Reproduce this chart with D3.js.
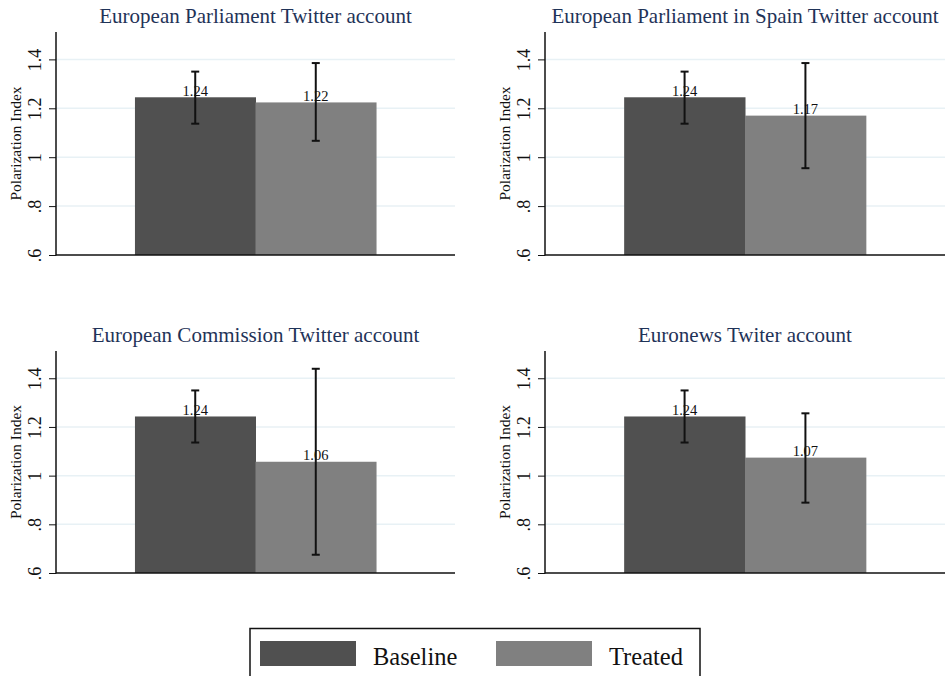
<!DOCTYPE html>
<html><head><meta charset="utf-8">
<script src="https://cdn.jsdelivr.net/npm/d3@7"></script>
<style>body{margin:0;background:#fff}svg{display:block}</style>
</head><body>
<svg id="chart" width="946" height="676"></svg>
<script>
const panelTitles = ["European Parliament Twitter account","European Parliament in Spain Twitter account","European Commission Twitter account","Euronews Twiter account"];
const groups = ["Baseline","Treated"];
const baselineMean = [1.245,1.245,1.243,1.243];
const baselineLo = [1.137,1.137,1.136,1.136];
const baselineHi = [1.350,1.350,1.350,1.350];
const treatedMean = [1.224,1.170,1.057,1.074];
const treatedLo = [1.067,0.955,0.675,0.889];
const treatedHi = [1.385,1.385,1.439,1.256];
const valueLabels = [["1.24","1.22"],["1.24","1.17"],["1.24","1.06"],["1.24","1.07"]];
const yTicks = [0.6,0.8,1,1.2,1.4];
const tickLabels = [".6",".8","1","1.2","1.4"];
const yDomain = [0.6,1.512];
const colors = {Baseline:"#505050", Treated:"#808080"};

const svg = d3.select("#chart");
const serif = "'Liberation Serif','Times New Roman',serif";
const panels = [
  {x0:56,x1:455,y0:32,y1:255},
  {x0:545,x1:945,y0:32,y1:255},
  {x0:56,x1:455,y0:351,y1:573},
  {x0:545,x1:945,y0:351,y1:573}
];

panels.forEach((p,i)=>{
  const g = svg.append("g");
  const y = d3.scaleLinear().domain(yDomain).range([p.y1,p.y0]);
  const x = d3.scaleBand().domain(groups).range([p.x0,p.x1]).paddingInner(0).paddingOuter(0.655);
  g.selectAll("line.grid").data(yTicks.slice(1)).join("line")
    .attr("x1",p.x0).attr("x2",p.x1).attr("y1",d=>y(d)).attr("y2",d=>y(d))
    .attr("stroke","#e8f1f5").attr("stroke-width",1.5);
  g.append("text").attr("x",(p.x0+p.x1)/2).attr("y",p.y0-9)
    .attr("text-anchor","middle").attr("font-family",serif).attr("font-size",21)
    .attr("fill","#1f3358").text(panelTitles[i]);
  const rows = [
    {k:"Baseline",m:baselineMean[i],lo:baselineLo[i],hi:baselineHi[i],lab:valueLabels[i][0]},
    {k:"Treated",m:treatedMean[i],lo:treatedLo[i],hi:treatedHi[i],lab:valueLabels[i][1]}
  ];
  g.selectAll("rect.bar").data(rows).join("rect")
    .attr("x",d=>x(d.k)).attr("width",x.bandwidth()+0.5)
    .attr("y",d=>y(d.m)).attr("height",d=>y(yDomain[0])-y(d.m))
    .attr("fill",d=>colors[d.k]);
  g.selectAll("text.val").data(rows).join("text")
    .attr("x",d=>x(d.k)+x.bandwidth()/2).attr("y",d=>y(d.m)-1.5)
    .attr("text-anchor","middle").attr("font-family",serif).attr("font-size",14.5)
    .attr("fill","#111").text(d=>d.lab);
  const eb = g.selectAll("g.eb").data(rows).join("g").attr("stroke","#111").attr("stroke-width",2);
  eb.append("line").attr("x1",d=>x(d.k)+x.bandwidth()/2).attr("x2",d=>x(d.k)+x.bandwidth()/2)
    .attr("y1",d=>y(d.lo)).attr("y2",d=>y(d.hi));
  eb.append("line").attr("x1",d=>x(d.k)+x.bandwidth()/2-4).attr("x2",d=>x(d.k)+x.bandwidth()/2+4)
    .attr("y1",d=>y(d.lo)).attr("y2",d=>y(d.lo));
  eb.append("line").attr("x1",d=>x(d.k)+x.bandwidth()/2-4).attr("x2",d=>x(d.k)+x.bandwidth()/2+4)
    .attr("y1",d=>y(d.hi)).attr("y2",d=>y(d.hi));
  const ax = g.append("g").attr("transform",`translate(${p.x0},0)`)
    .call(d3.axisLeft(y).tickValues(yTicks).tickSize(7).tickFormat((d,j)=>tickLabels[j]));
  ax.select(".domain").remove();
  ax.selectAll(".tick line").attr("stroke","#111").attr("stroke-width",1);
  ax.selectAll(".tick text").attr("font-family",serif).attr("font-size",18).attr("fill","#111")
    .attr("text-anchor","middle").attr("dy",0).attr("x",0).attr("y",0)
    .attr("transform","translate(-15,0) rotate(-90)");
  g.append("line").attr("x1",p.x0).attr("x2",p.x0).attr("y1",p.y0).attr("y2",p.y1+0.5)
    .attr("stroke","#111").attr("stroke-width",1.5);
  g.append("line").attr("x1",p.x0).attr("x2",p.x1).attr("y1",p.y1).attr("y2",p.y1)
    .attr("stroke","#111").attr("stroke-width",1.5);
  g.append("text").attr("transform",`translate(${p.x0-35},${(p.y0+p.y1)/2}) rotate(-90)`)
    .attr("text-anchor","middle").attr("font-family",serif).attr("font-size",15.5)
    .attr("fill","#111").text("Polarization Index");
});

const lg = svg.append("g");
lg.append("rect").attr("x",250).attr("y",628.5).attr("width",450).attr("height",60)
  .attr("fill","#fff").attr("stroke","#111").attr("stroke-width",1.5);
const legX = d3.scaleOrdinal().domain(groups).range([260,496]);
groups.forEach(k=>{
  lg.append("rect").attr("x",legX(k)).attr("y",641).attr("width",96).attr("height",25).attr("fill",colors[k]);
  lg.append("text").attr("x",legX(k)+113).attr("y",665).attr("font-family",serif).attr("font-size",24.5)
    .attr("fill","#111").text(k);
});
</script>
</body></html>
